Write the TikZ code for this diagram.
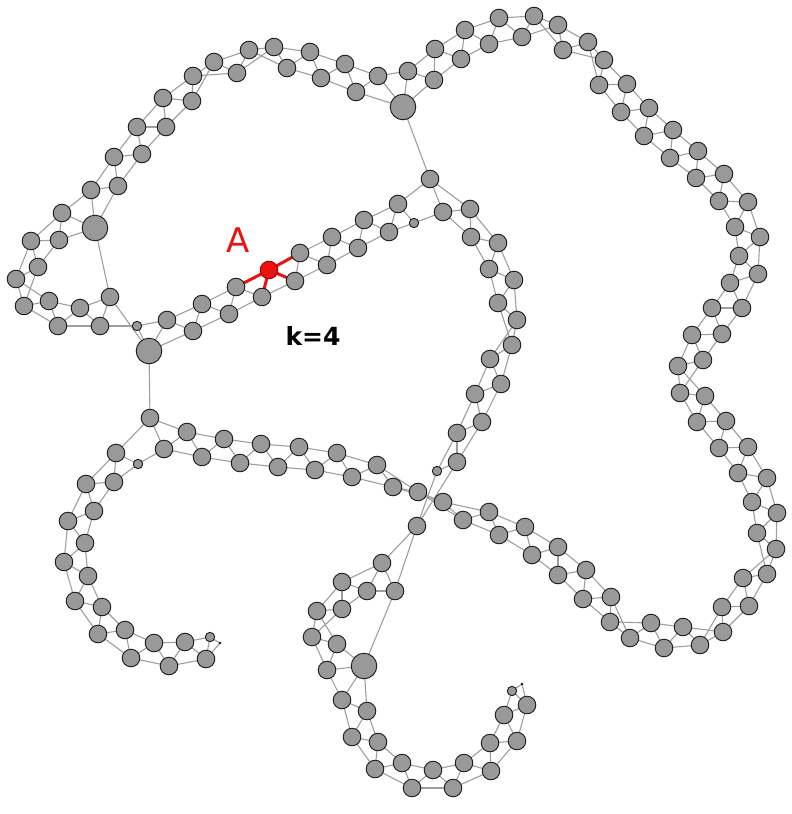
\documentclass[tikz,border=0pt]{standalone}
\usepackage{fontspec}
\setmainfont{DejaVu Sans}
\usetikzlibrary{backgrounds}
\definecolor{edgec}{RGB}{158,158,158}
\definecolor{nodec}{RGB}{153,153,153}
\definecolor{nodeb}{RGB}{25,25,25}
\definecolor{hotred}{RGB}{235,18,18}
\definecolor{darkred}{RGB}{160,0,0}
\tikzset{
  vbase/.style={circle,draw=nodeb,fill=nodec,line width=0.9pt,inner sep=0pt},
  v2/.style={vbase,minimum size=2.2pt,fill=nodeb,line width=0.3pt},
  v3/.style={vbase,minimum size=9.4pt},
  v4/.style={vbase,minimum size=17.6pt},
  v5/.style={vbase,minimum size=25.6pt},
  vr/.style={vbase,minimum size=17.6pt,fill=hotred,draw=darkred},
  edge/.style={draw=edgec,line width=1.1pt},
  redge/.style={draw=hotred,line width=3pt},
  lbl/.style={inner sep=0pt}
}
\begin{document}
\begin{tikzpicture}[x=1pt,y=-1pt]
\useasboundingbox (0,0) rectangle (792,814);
\foreach \i/\x/\y/\s in {
1/522/684/v2, 2/512/691/v3, 3/527/705/v4, 4/504/715/v4, 5/517/741/v4,
6/490/743/v4, 7/491/771/v4, 8/464/763/v4, 9/453/788/v4, 10/433/770/v4,
11/412/788/v4, 12/402/763/v4, 13/375/769/v4, 14/378/742/v4, 15/352/737/v4,
16/367/711/v4, 17/342/700/v4, 18/364/666/v5, 19/327/670/v4, 20/337/644/v4,
21/312/637/v4, 22/317/611/v4, 23/342/609/v4, 24/342/582/v4, 25/367/591/v4,
26/382/563/v4, 27/395/591/v4, 28/417/526/v4, 29/437/471/v3, 30/457/462/v4,
31/457/433/v4, 32/482/422/v4, 33/475/394/v4, 34/501/384/v4, 35/490/359/v4,
36/512/345/v4, 37/517/320/v4, 38/498/303/v4, 39/514/280/v4, 40/489/269/v4,
41/498/243/v4, 42/471/237/v4, 43/470/209/v4, 44/443/212/v4, 45/430/179/v4,
46/414/223/v3, 47/398/204/v4, 48/389/232/v4, 49/364/220/v4, 50/358/248/v4,
51/332/237/v4, 52/327/265/v4, 53/300/253/v4, 54/295/281/v4, 55/269/270/vr,
56/262/297/v4, 57/236/287/v4, 58/229/314/v4, 59/202/304/v4, 60/193/331/v4,
61/167/320/v4, 62/149/351/v5, 63/137/326/v3, 64/110/297/v4, 65/100/326/v4,
66/80/308/v4, 67/58/326/v4, 68/49/301/v4, 69/24/306/v4, 70/16/279/v4,
71/38/267/v4, 72/31/241/v4, 73/59/240/v4, 74/62/213/v4, 75/95/228/v5,
76/91/190/v4, 77/118/186/v4, 78/114/157/v4, 79/142/154/v4, 80/137/127/v4,
81/166/127/v4, 82/163/98/v4, 83/192/101/v4, 84/193/76/v4, 85/214/62/v4,
86/237/73/v4, 87/249/50/v4, 88/274/47/v4, 89/287/68/v4, 90/310/52/v4,
91/321/78/v4, 92/345/64/v4, 93/356/92/v4, 94/378/76/v4, 95/403/107/v5,
96/408/71/v4, 97/434/80/v4, 98/435/49/v4, 99/461/59/v4, 100/465/30/v4,
101/489/44/v4, 102/499/18/v4, 103/522/37/v4, 104/534/16/v4, 105/558/25/v4,
106/563/50/v4, 107/588/42/v4, 108/604/60/v4, 109/599/85/v4, 110/627/84/v4,
111/621/112/v4, 112/649/108/v4, 113/644/136/v4, 114/673/130/v4, 115/670/158/v4,
116/698/151/v4, 117/696/178/v4, 118/724/174/v4, 119/719/201/v4, 120/748/202/v4,
121/735/227/v4, 122/760/237/v4, 123/739/256/v4, 124/758/274/v4, 125/730/283/v4,
126/742/308/v4, 127/712/308/v4, 128/722/334/v4, 129/692/335/v4, 130/703/360/v4,
131/678/366/v4, 132/680/393/v4, 133/705/396/v4, 134/697/422/v4, 135/726/421/v4,
136/719/448/v4, 137/748/447/v4, 138/738/473/v4, 139/767/478/v4, 140/752/502/v4,
141/777/513/v4, 142/757/533/v4, 143/776/549/v4, 144/767/574/v4, 145/743/578/v4,
146/749/606/v4, 147/722/607/v4, 148/723/632/v4, 149/700/645/v4, 150/683/627/v4,
151/664/648/v4, 152/651/623/v4, 153/630/638/v4, 154/610/622/v4, 155/611/597/v4,
156/583/599/v4, 157/586/570/v4, 158/558/575/v4, 159/558/547/v4, 160/532/555/v4,
161/525/527/v4, 162/499/535/v4, 163/489/512/v4, 164/463/520/v4, 165/443/502/v4,
166/418/492/v4, 167/393/487/v4, 168/377/465/v4, 169/352/477/v4, 170/337/453/v4,
171/315/470/v4, 172/299/447/v4, 173/278/467/v4, 174/261/444/v4, 175/240/463/v4,
176/224/439/v4, 177/202/457/v4, 178/187/432/v4, 179/164/449/v4, 180/150/418/v4,
181/138/464/v3, 182/116/453/v4, 183/114/482/v4, 184/86/484/v4, 185/94/511/v4,
186/68/521/v4, 187/85/543/v4, 188/64/562/v4, 189/88/576/v4, 190/75/601/v4,
191/102/607/v4, 192/98/634/v4, 193/125/630/v4, 194/131/658/v4, 195/154/643/v4,
196/169/666/v4, 197/185/642/v4, 198/206/659/v4, 199/210/637/v3, 200/220/643/v2}
{\node[\s] (n\i) at (\x,\y) {};}
\begin{scope}[on background layer]
\foreach \i in {1,...,199}{
  \pgfmathtruncatemacro\j{\i+1}
  \ifnum\i=45 \else\ifnum\i=63 \else\ifnum\i=180 \else
    \draw[edge] (n\i.center) -- (n\j.center);
  \fi\fi\fi
}
\foreach \i in {1,...,198}{
  \pgfmathtruncatemacro\j{\i+2}
  \ifnum\i=27 \else
    \draw[edge] (n\i.center) -- (n\j.center);
  \fi
}
\draw[edge] (n45.center) -- (n95.center);
\draw[edge] (n64.center) -- (n75.center);
\draw[edge] (n180.center) -- (n62.center);
\draw[edge] (n27.center) -- (n18.center);
\foreach \k in {53,54,56,57}{
  \draw[redge] (n55.center) -- (n\k.center);
}
\end{scope}
\node[lbl,text=hotred,font=\fontsize{34}{34}\selectfont] (labA) at (238,240) {A};
\node[lbl,font=\fontsize{25}{25}\selectfont\bfseries] (labK) at (313,336) {k=4};
\end{tikzpicture}
\end{document}
